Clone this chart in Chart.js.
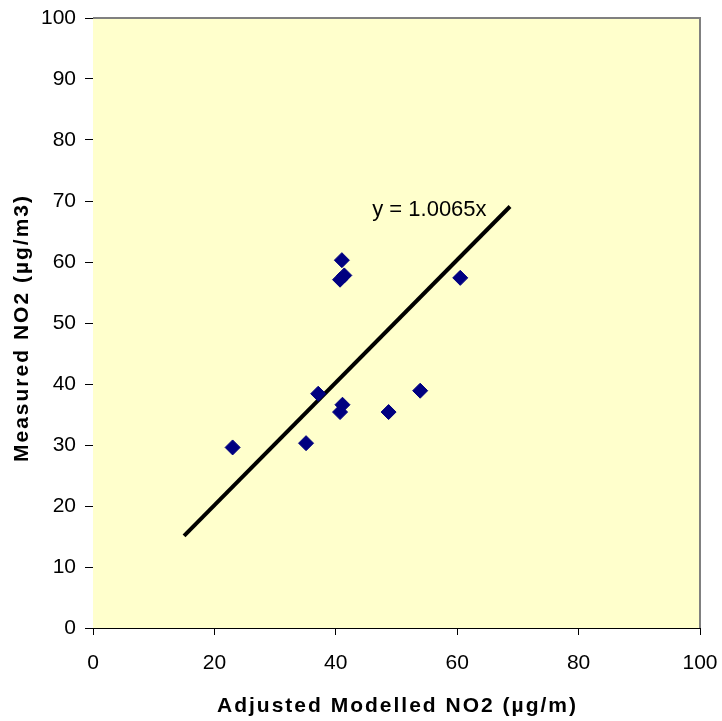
<!DOCTYPE html>
<html>
<head>
<meta charset="utf-8">
<script src="https://cdn.jsdelivr.net/npm/chart.js@4/dist/chart.umd.min.js"></script>
<style>
  html, body { margin: 0; padding: 0; background: #fff; }
  #wrap { width: 722px; height: 721px; }
</style>
</head>
<body>
<div id="wrap"><canvas id="no2Chart" width="722" height="721"></canvas></div>
<script>
// adjusted modelled NO2 (x) vs measured NO2 (y)
const modelled = [41.0, 41.4, 40.7, 60.5, 37.1, 41.1, 40.7, 48.7, 53.9, 23.0, 35.1];
const measured = [60.3, 57.8, 57.1, 57.4, 38.4, 36.6, 35.4, 35.4, 38.9, 29.6, 30.3];

// trendline endpoints (y = 1.0065x)
const trendX = [15, 68.7];
const trendY = [15.1, 69.1];
const trendLabel = "y = 1.0065x";

const xTicks = [0, 20, 40, 60, 80, 100];
const yTicks = [0, 10, 20, 30, 40, 50, 60, 70, 80, 90, 100];

const xTitle = "Adjusted Modelled NO2 (µg/m)";
const yTitle = "Measured NO2 (µg/m3)";

const FONT = '"Liberation Sans", Arial, sans-serif';
const ctx = document.getElementById("no2Chart").getContext("2d");

// yellow plot area, grey frame, titles and trendline label
const plotBg = {
  id: 'plotBg',
  beforeDatasetsDraw(chart) {
    const a = chart.chartArea;
    const c = chart.ctx;
    c.save();
    c.fillStyle = '#FFFFCC';
    c.fillRect(a.left, a.top, a.right - a.left, a.bottom - a.top);
    c.strokeStyle = '#808080';
    c.lineWidth = 2;
    c.beginPath();
    c.moveTo(a.left, a.top);
    c.lineTo(a.right, a.top);
    c.lineTo(a.right, a.bottom);
    c.stroke();
    c.restore();
  },
  afterDatasetsDraw(chart) {
    const c = chart.ctx;
    const xs = chart.scales.x, ys = chart.scales.y;
    const a = chart.chartArea;
    c.save();
    c.fillStyle = '#000';
    c.font = '22px ' + FONT;
    c.textAlign = 'left';
    c.textBaseline = 'middle';
    c.fillText(trendLabel, xs.getPixelForValue(46), ys.getPixelForValue(68.6));

    // axis titles, a bit letter-spaced like the original
    c.font = 'bold 21px ' + FONT;
    c.letterSpacing = '2px';
    c.textAlign = 'center';
    c.fillText(xTitle, (a.left + a.right) / 2 + 1, 706);
    c.translate(22, (a.top + a.bottom) / 2 + 5);
    c.rotate(-Math.PI / 2);
    c.fillText(yTitle, 0, 0);
    c.restore();
  }
};

const tickFont = { family: FONT, size: 21 };

new Chart(ctx, {
  type: 'scatter',
  data: {
    datasets: [
      {
        label: 'Measured',
        data: modelled.map((x, i) => ({ x: x, y: measured[i] })),
        pointStyle: 'rectRot',
        pointRadius: 7.5,
        pointHoverRadius: 7.5,
        backgroundColor: '#000080',
        borderColor: '#000080',
        borderWidth: 1
      },
      {
        label: 'Trend',
        type: 'line',
        data: trendX.map((x, i) => ({ x: x, y: trendY[i] })),
        borderColor: '#000',
        borderWidth: 4,
        pointRadius: 0,
        fill: false
      }
    ]
  },
  options: {
    responsive: false,
    animation: false,
    layout: { padding: { top: 18, right: 22, left: 0, bottom: 0 } },
    plugins: {
      legend: { display: false },
      tooltip: { enabled: false }
    },
    scales: {
      x: {
        type: 'linear',
        min: 0,
        max: 100,
        afterBuildTicks: s => { s.ticks = xTicks.map(v => ({ value: v })); },
        afterFit: s => { s.height = 93; s.paddingLeft = 0; s.paddingRight = 0; },
        grid: { drawOnChartArea: false, drawTicks: true, tickLength: 7, color: '#000' },
        border: { color: '#000', width: 1 },
        ticks: { color: '#000', font: tickFont, padding: 16, maxRotation: 0 }
      },
      y: {
        type: 'linear',
        min: 0,
        max: 100,
        afterBuildTicks: s => { s.ticks = yTicks.map(v => ({ value: v })); },
        afterFit: s => { s.width = 93; s.paddingTop = 0; s.paddingBottom = 0; },
        grid: { drawOnChartArea: false, drawTicks: true, tickLength: 8, color: '#000' },
        border: { color: '#000', width: 1 },
        ticks: { color: '#000', font: tickFont, padding: 9 }
      }
    }
  },
  plugins: [plotBg]
});
</script>
</body>
</html>
